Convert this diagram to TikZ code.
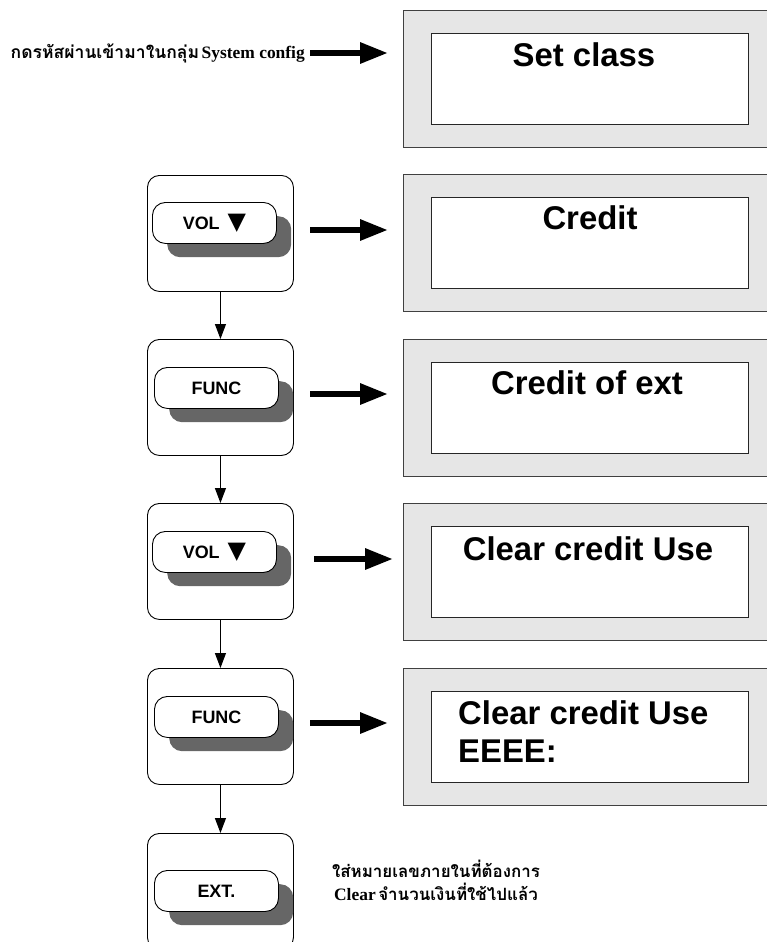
\documentclass[tikz,border=0pt]{standalone}
\usepackage{fontspec}
\usetikzlibrary{arrows.meta}
\setmainfont{Liberation Serif}
\newfontfamily\lcdfont{Liberation Sans}
\newfontfamily\thaifont[Script=Thai]{Loma}
\newfontfamily\symfont{DejaVu Sans}
\definecolor{lcdgray}{HTML}{E6E6E6}
\definecolor{shadowgray}{HTML}{666666}
\tikzset{
  lcdouter/.style={draw=black!75, line width=1bp, fill=lcdgray, minimum width=370bp, minimum height=137bp, inner sep=0, anchor=north west},
  lcdinner/.style={draw=black!85, line width=1bp, fill=white, minimum width=317bp, minimum height=91bp, inner sep=0, anchor=north west},
  lcdtext/.style={font=\lcdfont\bfseries\fontsize{33}{40}\selectfont, inner sep=0},
  btnouter/.style={draw=black, line width=0.9bp, rounded corners=12bp, minimum width=146bp, minimum height=116bp, inner sep=0, anchor=north west},
  btnshadow/.style={fill=shadowgray, rounded corners=13bp, minimum width=124bp, minimum height=41bp, inner sep=0, anchor=north west},
  btn/.style={draw=black, line width=0.9bp, fill=white, rounded corners=13bp, minimum width=124bp, minimum height=41bp, inner sep=0, anchor=north west, font=\lcdfont\bfseries\fontsize{18}{20}\selectfont},
  bigarrow/.style={line width=6bp, -{Triangle[length=28bp,width=20bp]}},
  vertarrow/.style={line width=1.1bp, -{Triangle[length=15bp,width=11bp]}},
  thaitext/.style={inner sep=0},
}
\newcommand{\voldown}{VOL\hspace{8bp}{\symfont\fontsize{24}{24}\selectfont ▼}}
\begin{document}
\begin{tikzpicture}[x=1bp,y=-1bp]
\useasboundingbox (0,0) rectangle (767,942);

% LCD panels
\node[lcdouter] (lcd1) at (403,10) {};
\node[lcdinner] (in1) at (431,33) {};
\node[lcdtext] (tx1) at (584,55) {Set class};

\node[lcdouter] (lcd2) at (403,174) {};
\node[lcdinner] (in2) at (431,197) {};
\node[lcdtext] (tx2) at (590,218) {Credit};

\node[lcdouter] (lcd3) at (403,339) {};
\node[lcdinner] (in3) at (431,362) {};
\node[lcdtext] (tx3) at (587,383) {Credit of ext};

\node[lcdouter] (lcd4) at (403,503) {};
\node[lcdinner] (in4) at (431,526) {};
\node[lcdtext] (tx4) at (588,549) {Clear credit Use};

\node[lcdouter] (lcd5) at (403,668) {};
\node[lcdinner] (in5) at (431,691) {};
\node[lcdtext, anchor=west] (tx5a) at (458,713) {Clear credit Use};
\node[lcdtext, anchor=west] (tx5b) at (458,751) {EEEE:};

% Buttons
\node[btnouter] (b1) at (147,175) {};
\node[btnshadow] (s1) at (167,216) {};
\node[btn] (k1) at (152,202) {\voldown};

\node[btnouter] (b2) at (147,339) {};
\node[btnshadow] (s2) at (169,381) {};
\node[btn] (k2) at (154,367) {FUNC};

\node[btnouter] (b3) at (147,503) {};
\node[btnshadow] (s3) at (167,545) {};
\node[btn] (k3) at (152,531) {\voldown};

\node[btnouter] (b4) at (147,668) {};
\node[btnshadow] (s4) at (169,710) {};
\node[btn] (k4) at (154,696) {FUNC};

\node[btnouter] (b5) at (147,833) {};
\node[btnshadow] (s5) at (169,884) {};
\node[btn] (k5) at (154,870) {EXT.};

% vertical arrows
\draw[vertarrow] (b1.south) -- (b2.north);
\draw[vertarrow] (b2.south) -- (b3.north);
\draw[vertarrow] (b3.south) -- (b4.north);
\draw[vertarrow] (b4.south) -- (b5.north);

% top text
\node[thaitext, anchor=east] (t0) at (305,53) {{\thaifont\bfseries\fontsize{17.6}{20}\selectfont กดรหัสผ่านเข้ามาในกลุ่ม} {\bfseries\fontsize{17.5}{20}\selectfont System config}};

% horizontal arrows
\coordinate (a2) at (310,230);
\coordinate (a3) at (310,394);
\coordinate (a4) at (314,559);
\coordinate (a5) at (310,723);
\draw[bigarrow, shorten <=5bp, shorten >=15bp] (t0.east) -- (t0.east -| lcd1.west);
\draw[bigarrow, shorten >=15bp] (a2) -- (a2 -| lcd2.west);
\draw[bigarrow, shorten >=15bp] (a3) -- (a3 -| lcd3.west);
\draw[bigarrow, shorten >=10bp] (a4) -- (a4 -| lcd4.west);
\draw[bigarrow, shorten >=15bp] (a5) -- (a5 -| lcd5.west);

% bottom text
\node[thaitext] (bt1) at (436,869) {\thaifont\bfseries\fontsize{17}{20}\selectfont ใส่หมายเลขภายในที่ต้องการ};
\node[thaitext] (bt2) at (436,892) {{\bfseries\fontsize{17.5}{20}\selectfont Clear} {\thaifont\bfseries\fontsize{17}{20}\selectfont จำนวนเงินที่ใช้ไปแล้ว}};
\end{tikzpicture}
\end{document}
